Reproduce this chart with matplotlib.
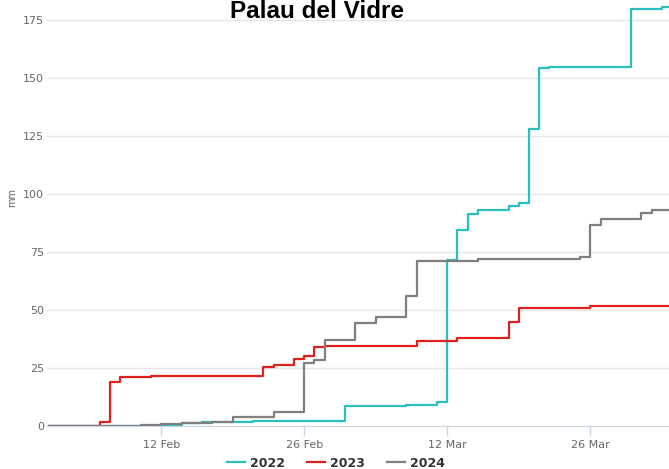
import datetime as dt
import matplotlib
matplotlib.use("Agg")
import matplotlib.pyplot as plt
import matplotlib.dates as mdates

# cumulative rainfall (mm), step changes on these days (common non-leap year axis)
days_2022 = ["02-01", "02-10", "02-12", "02-14", "02-16", "02-21", "02-26", "03-02", "03-08",
             "03-11", "03-12", "03-13", "03-14", "03-15", "03-18", "03-19", "03-20", "03-21",
             "03-22", "03-30", "04-02", "04-03"]
mm_2022 = [0, 0.2, 0.6, 1.4, 2.1, 2.3, 2.5, 8.8, 9.4,
           10.3, 71.6, 84.4, 91.3, 93.2, 94.9, 95.9, 128.0, 154.0,
           154.6, 179.4, 180.4, 180.4]

days_2023 = ["02-01", "02-06", "02-07", "02-08", "02-11", "02-16", "02-22", "02-23", "02-24",
             "02-25", "02-26", "02-27", "02-28", "03-09", "03-13", "03-18", "03-19", "03-26",
             "04-03"]
mm_2023 = [0, 1.8, 19.1, 21.1, 21.5, 21.7, 25.7, 26.3, 26.6,
           29.0, 30.4, 34.2, 34.7, 36.6, 37.9, 44.7, 50.9, 51.9,
           52.0]

days_2024 = ["02-01", "02-10", "02-12", "02-14", "02-17", "02-19", "02-23", "02-26", "02-27",
             "02-28", "03-03", "03-05", "03-08", "03-09", "03-15", "03-25", "03-26", "03-27",
             "03-31", "04-01", "04-03"]
mm_2024 = [0, 0.5, 1.0, 1.4, 1.8, 4.0, 6.3, 27.3, 28.7,
           37.0, 44.4, 46.9, 55.9, 71.1, 71.9, 73.0, 86.6, 89.0,
           91.6, 93.0, 93.2]

years = ["2022", "2023", "2024"]
colors = ["#2cbfbf", "#e0201f", "#7f7f7f"]
tick_days = ["02-12", "02-26", "03-12", "03-26"]
yticks = [0, 25, 50, 75, 100, 125, 150, 175]


def to_dates(days):
    return [dt.datetime.strptime("2023-" + d, "%Y-%m-%d") for d in days]


fig = plt.figure(figsize=(6.69, 4.69), dpi=100)
ax = fig.add_axes([46.7 / 669, 42.6 / 469, 1 - 46.7 / 669, 1 - 42.6 / 469])

series = [(days_2022, mm_2022), (days_2023, mm_2023), (days_2024, mm_2024)]
for (d, v), yr, c in zip(series, years, colors):
    ax.step(to_dates(d), v, where="post", color=c, lw=1.6, label=yr)

start = dt.datetime(2023, 2, 1)
ax.set_xlim(start - dt.timedelta(days=0.2), start + dt.timedelta(days=60.7))
ax.set_ylim(0, 183.4)

ax.set_xticks(to_dates(tick_days))
ax.xaxis.set_major_formatter(mdates.DateFormatter("%d %b"))
ax.set_yticks(yticks)

for s in ["top", "right", "left"]:
    ax.spines[s].set_visible(False)
ax.spines["bottom"].set_color("#ccd6eb")
ax.spines["bottom"].set_zorder(0)
ax.tick_params(axis="x", colors="#ccd6eb", length=7, width=1, labelsize=8, labelcolor="#666666", pad=3)
ax.tick_params(axis="y", length=0, labelsize=8, labelcolor="#666666", pad=2)
ax.yaxis.grid(True, color="#e6e6e6", lw=1)
ax.set_axisbelow(True)

fig.text(12 / 669, 1 - 197 / 469, "mm", rotation=90, fontsize=7, color="#666666", ha="center", va="center")
fig.text(316.7 / 669, 1 - 18 / 469, "Palau del Vidre", fontsize=17.5, fontweight="bold",
         family="Liberation Sans", ha="center", va="baseline")

fig.legend(loc="center", bbox_to_anchor=(336 / 669, 1 - 463 / 469), ncol=3, frameon=False,
           prop={"weight": "bold", "size": 9}, labelcolor="#333333", handlelength=1.5,
           handletextpad=0.4, columnspacing=1.7, borderpad=0)

fig.savefig("out.png", dpi=100)
